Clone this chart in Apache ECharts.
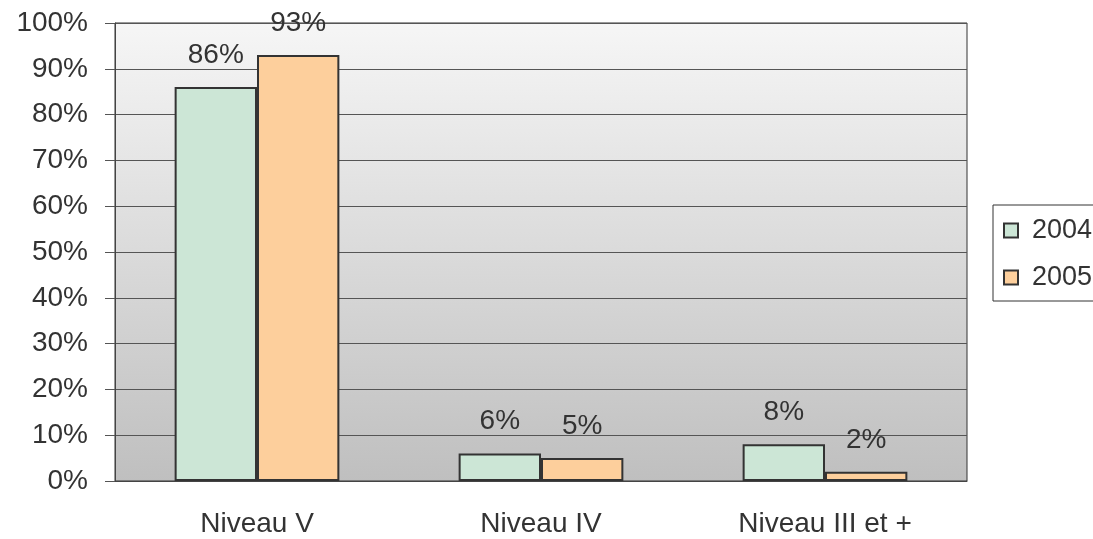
<!DOCTYPE html>
<html>
<head>
<meta charset="utf-8">
<script src="https://cdn.jsdelivr.net/npm/echarts@6/dist/echarts.min.js"></script>
<style>
  html, body { margin: 0; padding: 0; background: #fff; }
  #chart { width: 1093px; height: 539px; }
</style>
</head>
<body>
<div id="chart"></div>
<script>
var categories = ['Niveau V', 'Niveau IV', 'Niveau III et +'];
var years = ['2004', '2005'];
var values2004 = [86, 6, 8];
var values2005 = [93, 5, 2];
var yTicks = [0, 10, 20, 30, 40, 50, 60, 70, 80, 90, 100];

var chart = echarts.init(document.getElementById('chart'));

var labelStyle = {
    show: true,
    position: 'top',
    distance: 18,
    formatter: '{c}%',
    color: '#333',
    fontSize: 28,
    fontFamily: 'Liberation Sans'
};

var option = {
    animation: false,
    textStyle: { fontFamily: 'Liberation Sans' },
    grid: {
        left: 115, top: 23, width: 852, height: 458,
        show: true,
        borderColor: '#333',
        borderWidth: 1,
        backgroundColor: {
            type: 'linear', x: 0, y: 0, x2: 0, y2: 1,
            colorStops: [
                { offset: 0, color: '#f6f6f6' },
                { offset: 1, color: '#bfbfbf' }
            ]
        }
    },
    legend: {
        orient: 'vertical',
        left: 993, top: 205,
        padding: [12, 40, 10, 10],
        borderColor: '#333',
        borderWidth: 1,
        backgroundColor: '#fff',
        itemWidth: 14, itemHeight: 14,
        itemGap: 20,
        icon: 'rect',
        textStyle: { fontSize: 27, color: '#333', padding: [0, 0, 0, 9] },
        data: years
    },
    xAxis: {
        type: 'category',
        data: categories,
        axisLine: { lineStyle: { color: '#444', width: 1 } },
        axisTick: { length: 9, lineStyle: { color: '#555' } },
        axisLabel: { fontSize: 28, color: '#333', margin: 29 }
    },
    yAxis: {
        type: 'value',
        min: 0, max: 100, interval: 10,
        axisLine: { show: true, lineStyle: { color: '#444', width: 1 } },
        axisTick: { show: true, length: 10, lineStyle: { color: '#555' } },
        axisLabel: {
            fontSize: 28, color: '#333', margin: 27,
            formatter: function (v) { return yTicks.indexOf(v) >= 0 ? v + '%' : ''; }
        },
        splitLine: { lineStyle: { color: '#555', width: 1 } }
    },
    series: [
        {
            name: years[0], type: 'bar', data: values2004,
            barGap: '0%', barCategoryGap: '42%',
            itemStyle: { color: '#cce6d6', borderColor: '#333', borderWidth: 2 },
            label: labelStyle
        },
        {
            name: years[1], type: 'bar', data: values2005,
            itemStyle: { color: '#fdcf9c', borderColor: '#333', borderWidth: 2 },
            label: labelStyle
        }
    ]
};
chart.setOption(option);
</script>
</body>
</html>
